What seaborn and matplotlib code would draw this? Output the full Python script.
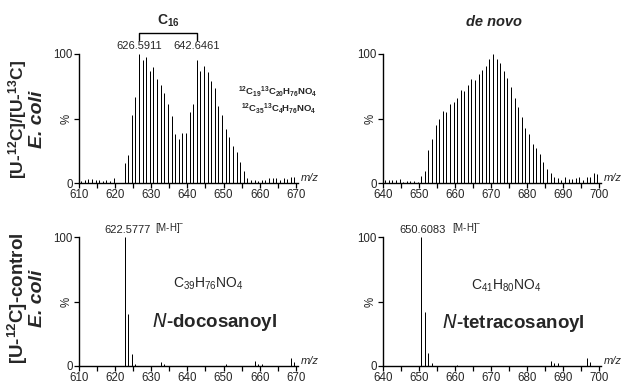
import matplotlib
matplotlib.use("Agg")
import matplotlib.pyplot as plt
import seaborn as sns
import pandas as pd

# ---------------- data ----------------
# Top-left: [U-12C]/[U-13C] E. coli, C16 pair
tl_mz = [610.6, 611.6, 612.6, 613.6, 614.6, 615.6, 616.6, 617.6, 618.6, 619.6,
         622.6, 623.6, 624.6, 625.6, 626.6, 627.6, 628.6, 629.6, 630.6, 631.6,
         632.6, 633.6, 634.6, 635.6, 636.6, 637.6, 638.6, 639.6, 640.6, 641.6,
         642.6, 643.6, 644.6, 645.6, 646.6, 647.6, 648.6, 649.6, 650.6, 651.6,
         652.6, 653.6, 654.6, 655.6, 656.6, 657.6, 658.6, 659.6, 660.6, 661.6,
         662.6, 663.6, 664.6, 665.6, 666.6, 667.6, 668.6, 669.6]
tl_int = [1.5, 2.0, 3.0, 3.0, 2.5, 2.0, 1.5, 2.5, 1.5, 3.5,
          15.5, 21.5, 53, 67, 100, 95, 97.5, 87, 90, 80.5,
          76, 69.5, 61, 52, 38, 34, 39, 39, 55, 61.5,
          95.5, 87, 91, 86, 79, 74, 60, 53, 42, 36,
          29, 24, 16, 9, 4, 2.5, 2.0, 1.5, 2.0, 2.0,
          3.5, 3.5, 3.5, 2.0, 3.5, 3.0, 5.0, 4.5]

# Top-right: de novo
tr_mz = [640.6, 641.6, 642.6, 643.6, 644.6, 645.6, 646.6, 647.6, 648.6, 649.6,
         650.6, 651.6, 652.6, 653.6, 654.6, 655.6, 656.6, 657.6, 658.6, 659.6,
         660.6, 661.6, 662.6, 663.6, 664.6, 665.6, 666.6, 667.6, 668.6, 669.6,
         670.6, 671.6, 672.6, 673.6, 674.6, 675.6, 676.6, 677.6, 678.6, 679.6,
         680.6, 681.6, 682.6, 683.6, 684.6, 685.6, 686.6, 687.6, 688.6, 689.6,
         690.6, 691.6, 692.6, 693.6, 694.6, 695.6, 696.6, 697.6, 698.6, 699.6]
tr_int = [2.3, 2.3, 2.3, 2.1, 3.1, 1.0, 1.8, 1.6, 1.6, 1.0,
          5.4, 9.5, 25.6, 33.9, 44.7, 49.4, 55.8, 54.8, 61.2, 63.0,
          65.6, 72.0, 71.3, 76.0, 80.4, 79.8, 84.5, 87.6, 91.0, 95.9,
          100, 96.4, 93.3, 87.0, 81.7, 74.7, 66.1, 59.2, 51.4, 42.6,
          38.0, 30.2, 26.9, 22.5, 16.3, 10.6, 7.8, 4.9, 3.6, 2.3,
          4.7, 3.1, 3.4, 3.6, 4.7, 2.3, 4.7, 4.9, 7.5, 7.0]

# Bottom-left: [U-12C]-control, N-docosanoyl
bl_mz = [622.6, 623.6, 624.6, 625.6, 632.6, 633.6, 650.6, 658.6, 659.6, 660.6, 668.6, 669.6]
bl_int = [100, 40.5, 9.0, 1.6, 2.8, 1.6, 1.2, 4.0, 1.8, 1.6, 6.0, 2.8]

# Bottom-right: [U-12C]-control, N-tetracosanoyl
br_mz = [650.6, 651.6, 652.6, 653.6, 660.6, 686.6, 687.6, 688.6, 696.6, 697.6]
br_int = [100, 42.2, 10.1, 2.3, 1.0, 4.1, 2.3, 2.0, 6.0, 2.8]

top_xlim = (610, 670)
right_xlim = (640, 700)

# ---------------- style ----------------
sns.set_theme(style="white")
plt.rcParams["font.family"] = ["Liberation Sans", "DejaVu Sans"]
plt.rcParams["mathtext.default"] = "regular"

W, H = 623, 383
fig = plt.figure(figsize=(W / 100, H / 100), dpi=100)


def px_axes(left, top, right, bottom):
    return fig.add_axes([left / W, 1 - bottom / H, (right - left) / W, (bottom - top) / H])


def style_axes(ax, xlim):
    ax.set_xlim(xlim[0], xlim[1] + 0.6)
    ax.set_ylim(0, 100)
    for s in ["top", "right"]:
        ax.spines[s].set_visible(False)
    for s in ["left", "bottom"]:
        ax.spines[s].set_color("black")
        ax.spines[s].set_linewidth(1.0)
    ax.spines["left"].set_bounds(0, 100)
    ax.spines["bottom"].set_bounds(xlim[0], xlim[1] + 0.6)
    ax.set_xticks(range(xlim[0], xlim[1] + 1, 10))
    ax.set_xticks(range(xlim[0], xlim[1] + 1, 5), minor=True)
    ax.set_yticks([0, 50, 100])
    ax.set_yticklabels(["0", "%", "100"])
    ax.get_yticklabels()[1].set_rotation(90)
    ax.tick_params(axis="both", which="both", direction="out", length=3.5, width=0.9,
                   color="black", labelsize=8.3, pad=1.0, bottom=True, left=True)
    ax.tick_params(axis="y", pad=1)
    ax.set_xlabel("")
    ax.set_ylabel("")
    ax.text(1.012, 0.0, "m/z", transform=ax.transAxes, fontsize=8, style="italic",
            ha="left", va="bottom")
    ax.set_facecolor("none")


def draw(ax, mz, inten):
    df = pd.DataFrame({"mz": mz, "intensity": inten})
    sns.barplot(data=df, x="mz", y="intensity", native_scale=True, width=1e-6,
                color="black", saturation=1, errorbar=None, linewidth=0.72,
                edgecolor="black", ax=ax)
    for p in ax.patches:
        p.set_snap(True)


ax_tl = px_axes(79, 54, 298, 183)
ax_tr = px_axes(383, 54, 601, 183)
ax_bl = px_axes(79, 237, 298, 366)
ax_br = px_axes(383, 237, 601, 366)

draw(ax_tl, tl_mz, tl_int)
draw(ax_tr, tr_mz, tr_int)
draw(ax_bl, bl_mz, bl_int)
draw(ax_br, br_mz, br_int)
for ax, xl in [(ax_tl, top_xlim), (ax_tr, right_xlim), (ax_bl, top_xlim), (ax_br, right_xlim)]:
    style_axes(ax, xl)

# ---------------- annotations ----------------
fs = 8
# top-left
ax_tl.text(626.6, 102, "626.5911", ha="center", va="bottom", fontsize=fs, clip_on=False)
ax_tl.text(642.6, 102, "642.6461", ha="center", va="bottom", fontsize=fs, clip_on=False)
ax_tl.plot([626.6, 626.6, 642.6, 642.6], [111, 116.5, 116.5, 111], color="black",
           lw=1.0, clip_on=False)
ax_tl.text(634.6, 119, "C$_{16}$", ha="center", va="bottom", fontsize=10,
           fontweight="bold", clip_on=False)
ax_tl.text(675.8, 71, "$^{12}$C$_{19}$$^{13}$C$_{20}$H$_{76}$NO$_{4}$", ha="right",
           va="center", fontsize=6.8, fontweight="bold", clip_on=False)
ax_tl.text(675.8, 58, "$^{12}$C$_{35}$$^{13}$C$_{4}$H$_{76}$NO$_{4}$", ha="right",
           va="center", fontsize=6.8, fontweight="bold", clip_on=False)

# top-right title
fig.text(494 / W, 1 - 22 / H, "de novo", ha="center", va="center", fontsize=10.5,
         fontweight="bold", style="italic")

# bottom-left
ax_bl.text(623.4, 101.5, "622.5777", ha="center", va="bottom", fontsize=fs, clip_on=False)
ax_bl.text(630.9, 101.5, "[M-H]$^{-}$", ha="left", va="bottom", fontsize=7, clip_on=False)
ax_bl.text(645.9, 64, "C$_{39}$H$_{76}$NO$_{4}$", ha="center", va="center", fontsize=10)
ax_bl.text(647.6, 34, "$\\it{N}$-docosanoyl", ha="center", va="center", fontsize=13.5,
           fontweight="bold")

# bottom-right
ax_br.text(651.0, 101.5, "650.6083", ha="center", va="bottom", fontsize=fs, clip_on=False)
ax_br.text(659.2, 101.5, "[M-H]$^{-}$", ha="left", va="bottom", fontsize=7, clip_on=False)
ax_br.text(674.4, 62, "C$_{41}$H$_{80}$NO$_{4}$", ha="center", va="center", fontsize=10)
ax_br.text(676.3, 33, "$\\it{N}$-tetracosanoyl", ha="center", va="center", fontsize=13.5,
           fontweight="bold")

# row labels
fig.text(18 / W, 1 - 119 / H, "[U-$^{12}$C]/[U-$^{13}$C]", rotation=90, ha="center",
         va="center", fontsize=12.5, fontweight="bold")
fig.text(37 / W, 1 - 119 / H, "E. coli", rotation=90, ha="center", va="center",
         fontsize=14, fontweight="bold", style="italic")
fig.text(18 / W, 1 - 298 / H, "[U-$^{12}$C]-control", rotation=90, ha="center",
         va="center", fontsize=13.5, fontweight="bold")
fig.text(37 / W, 1 - 298 / H, "E. coli", rotation=90, ha="center", va="center",
         fontsize=14, fontweight="bold", style="italic")

fig.savefig("out.png", dpi=100, facecolor="white")
